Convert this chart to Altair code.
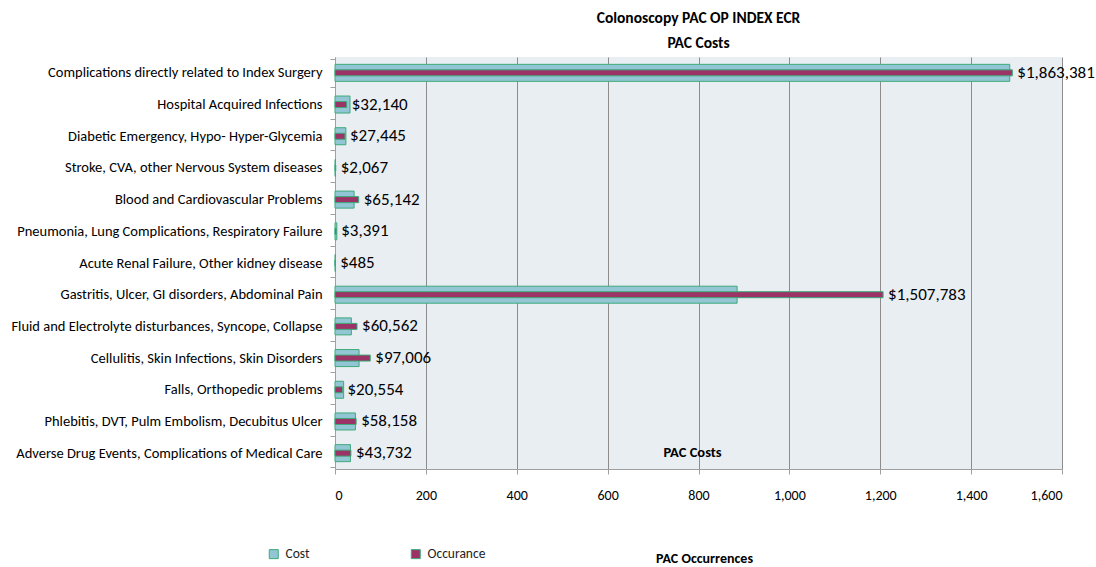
import altair as alt
import pandas as pd

categories = [
    "Complications directly related to Index Surgery",
    "Hospital Acquired Infections",
    "Diabetic Emergency, Hypo- Hyper-Glycemia",
    "Stroke, CVA, other Nervous System diseases",
    "Blood and Cardiovascular Problems",
    "Pneumonia, Lung Complications, Respiratory Failure",
    "Acute Renal Failure, Other kidney disease",
    "Gastritis, Ulcer, GI disorders, Abdominal Pain",
    "Fluid and Electrolyte disturbances, Syncope, Collapse",
    "Cellulitis, Skin Infections, Skin Disorders",
    "Falls, Orthopedic problems",
    "Phlebitis, DVT, Pulm Embolism, Decubitus Ulcer",
    "Adverse Drug Events, Complications of Medical Care",
]
occurrences = [1485, 33, 24, 1, 42, 4, 1, 885, 36, 53, 19, 45, 34]
costs = [1863381, 32140, 27445, 2067, 65142, 3391, 485, 1507783, 60562, 97006, 20554, 58158, 43732]
x_ticks = [0, 200, 400, 600, 800, 1000, 1200, 1400, 1600]

df = pd.DataFrame({"cat": categories, "occ": occurrences, "cost": costs})

FONT = "Carlito, Lato, sans-serif"
TEAL = "#93C6D4"
RED = "#9B3366"
EDGE = "#3DAA7A"

y_enc = alt.Y("cat:N", sort=categories, title=None,
              axis=alt.Axis(labelFontSize=14.5, labelColor="#000", labelPadding=8,
                            tickBand="extent", tickSize=5, tickColor="#A0A0A0",
                            domainColor="#A0A0A0", labelLimit=400, grid=False))

color_scale = alt.Scale(domain=["Cost", "Occurance"], range=[TEAL, RED])

teal = alt.Chart(df).mark_bar(size=17, stroke=EDGE, strokeWidth=1).encode(
    x=alt.X("occ:Q", scale=alt.Scale(domain=[0, 1600], nice=False),
            axis=alt.Axis(values=x_ticks, format=",.0f", grid=True,
                          gridColor="#8C8C8C", gridWidth=1, tickSize=5, tickColor="#A0A0A0",
                          domainColor="#A0A0A0", labelFontSize=14, labelColor="#000",
                          labelPadding=14, title="PAC Occurrences", titleFontSize=14,
                          titleFontWeight="bold", titleX=369, titleY=89,
                          titleBaseline="middle", titleAlign="center")),
    y=y_enc,
    color=alt.Color("s:N", scale=color_scale,
                    legend=alt.Legend(title=None, orient="none", legendX=-68, legendY=490,
                                      direction="horizontal", columns=2, columnPadding=99,
                                      symbolType="square", symbolSize=81,
                                      symbolStrokeColor=EDGE, symbolStrokeWidth=1,
                                      labelFontSize=13.5, labelColor="#222", labelOffset=5)),
).transform_calculate(s="'Cost'")

cost_x = alt.X("cost:Q", scale=alt.Scale(domain=[0, 2000000], nice=False),
               axis=alt.Axis(orient="top", labels=False, ticks=False, domain=False, grid=False,
                             title="PAC Costs", titleFontSize=14.5, titleFontWeight="bold",
                             titleX=357, titleY=395, titleBaseline="middle", titleAlign="center"))

red = alt.Chart(df).mark_bar(size=6, stroke=EDGE, strokeWidth=1).encode(
    x=cost_x,
    y=y_enc,
    color=alt.Color("s:N", scale=color_scale),
).transform_calculate(s="'Occurance'")

labels = alt.Chart(df).mark_text(align="left", baseline="middle", dx=5, fontSize=17,
                                  color="#000").encode(
    x=alt.X("cost:Q"),
    y=y_enc,
    text=alt.Text("cost:Q", format="$,.0f"),
)

cost_layer = alt.layer(red, labels)

chart = alt.layer(teal, cost_layer).resolve_scale(x="independent").properties(
    width=727, height=412,
    title=alt.TitleParams(text="Colonoscopy PAC OP INDEX ECR", subtitle="PAC Costs",
                          fontSize=15.5, fontWeight="bold", subtitleFontSize=15.5,
                          subtitleFontWeight="bold", subtitleColor="#000", color="#000",
                          anchor="middle", offset=-2, subtitlePadding=9),
    autosize=alt.AutoSizeParams(type="none"),
    padding={"left": 335, "top": 57, "right": 34, "bottom": 98},
).configure(font=FONT).configure_view(fill="#E8EEF2", stroke=None).configure_axis(
    labelFont=FONT, titleFont=FONT).configure_legend(labelFont=FONT).configure_title(font=FONT, subtitleFont=FONT)

chart.save("out.html", embed_options={"renderer": "svg", "actions": False})
